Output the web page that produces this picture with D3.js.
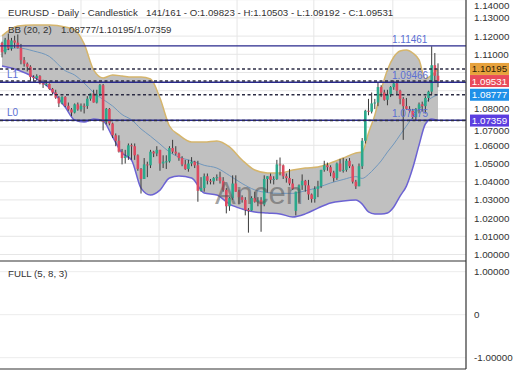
<!DOCTYPE html>
<html>
<head>
<meta charset="utf-8">
<script src="https://cdn.jsdelivr.net/npm/d3@7"></script>
<style>
  html, body { margin: 0; padding: 0; background: #fff; }
  svg { display: block; font-family: "Liberation Sans", Arial, sans-serif; }
</style>
</head>
<body>
<svg id="chart" width="520" height="390"></svg>
<script>
// daily candles (oldest first)
const open = [
  1.1163, 1.1111, 1.1180, 1.1132, 1.1176, 1.1164, 1.1135, 1.1068, 1.1048, 1.1032,
  1.0975, 1.0970, 1.0980, 1.0940, 1.0935, 1.0937, 1.0910, 1.0890, 1.0862, 1.0830,
  1.0866, 1.0817, 1.0797, 1.0780, 1.0825, 1.0797, 1.0817, 1.0816, 1.0856, 1.0884,
  1.0835, 1.0880, 1.0930, 1.0730, 1.0800, 1.0720, 1.0655, 1.0625, 1.0565, 1.0530,
  1.0540, 1.0600, 1.0595, 1.0545, 1.0470, 1.0415, 1.0495, 1.0490, 1.0565, 1.0555,
  1.0575, 1.0500, 1.0510, 1.0512, 1.0585, 1.0565, 1.0555, 1.0530, 1.0495, 1.0470,
  1.0500, 1.0510, 1.0490, 1.0350, 1.0365, 1.0430, 1.0405, 1.0402, 1.0420, 1.0425,
  1.0405, 1.0355, 1.0265, 1.0310, 1.0390, 1.0345, 1.0315, 1.0300, 1.0245, 1.0242,
  1.0310, 1.0290, 1.0300, 1.0275, 1.0415, 1.0430, 1.0410, 1.0415, 1.0495, 1.0490,
  1.0430, 1.0420, 1.0390, 1.0240, 1.0345, 1.0380, 1.0405, 1.0380, 1.0330, 1.0305,
  1.0360, 1.0375, 1.0465, 1.0490, 1.0480, 1.0450, 1.0420, 1.0500, 1.0460, 1.0465,
  1.0515, 1.0485, 1.0400, 1.0375, 1.0485, 1.0625, 1.0790, 1.0785, 1.0830, 1.0835,
  1.0920, 1.0890, 1.0850, 1.0880, 1.0920, 1.0940, 1.0900, 1.0855, 1.0815, 1.0800,
  1.0790, 1.0755, 1.0800, 1.0825, 1.0815, 1.0860, 1.0895, 1.1040, 1.09823
];
const high = [
  1.1169, 1.1190, 1.1214, 1.1190, 1.1202, 1.1209, 1.1157, 1.1085, 1.1055, 1.1040,
  1.0985, 1.0990, 1.0985, 1.0960, 1.0955, 1.0940, 1.0915, 1.0905, 1.0870, 1.0870,
  1.0870, 1.0835, 1.0805, 1.0830, 1.0835, 1.0830, 1.0830, 1.0870, 1.0885, 1.0905,
  1.0905, 1.0937, 1.0937, 1.0805, 1.0805, 1.0725, 1.0665, 1.0655, 1.0580, 1.0575,
  1.0610, 1.0610, 1.0610, 1.0550, 1.0475, 1.0530, 1.0510, 1.0575, 1.0570, 1.0595,
  1.0575, 1.0545, 1.0545, 1.0595, 1.0630, 1.0595, 1.0560, 1.0540, 1.0520, 1.0520,
  1.0535, 1.0515, 1.0515, 1.0425, 1.0445, 1.0445, 1.0415, 1.0425, 1.0440, 1.0455,
  1.0425, 1.0365, 1.0315, 1.0435, 1.0435, 1.0355, 1.0325, 1.0315, 1.0255, 1.0320,
  1.0345, 1.0315, 1.0315, 1.0435, 1.0430, 1.0445, 1.0430, 1.0520, 1.0533, 1.0495,
  1.0445, 1.0470, 1.0415, 1.0345, 1.0385, 1.0440, 1.0410, 1.0410, 1.0335, 1.0375,
  1.0405, 1.0465, 1.0515, 1.0505, 1.0490, 1.0460, 1.0505, 1.0525, 1.0530, 1.0525,
  1.0530, 1.0495, 1.0410, 1.0500, 1.0640, 1.0795, 1.0855, 1.0890, 1.0855, 1.0945,
  1.0930, 1.0905, 1.0905, 1.0925, 1.0955, 1.0945, 1.0905, 1.0865, 1.0860, 1.0815,
  1.0800, 1.0805, 1.0835, 1.0840, 1.0870, 1.0900, 1.1144, 1.1107, 1.10503
];
const low = [
  1.1083, 1.1100, 1.1123, 1.1120, 1.1135, 1.1132, 1.1045, 1.1032, 1.1006, 1.0950,
  1.0955, 1.0955, 1.0935, 1.0915, 1.0925, 1.0905, 1.0880, 1.0855, 1.0810, 1.0825,
  1.0810, 1.0790, 1.0760, 1.0775, 1.0790, 1.0785, 1.0775, 1.0800, 1.0845, 1.0835,
  1.0830, 1.0870, 1.0682, 1.0715, 1.0710, 1.0640, 1.0595, 1.0560, 1.0495, 1.0500,
  1.0520, 1.0520, 1.0520, 1.0460, 1.0335, 1.0415, 1.0425, 1.0475, 1.0535, 1.0540,
  1.0460, 1.0475, 1.0470, 1.0505, 1.0555, 1.0545, 1.0515, 1.0485, 1.0465, 1.0455,
  1.0485, 1.0475, 1.0290, 1.0345, 1.0345, 1.0385, 1.0385, 1.0385, 1.0405, 1.0390,
  1.0345, 1.0226, 1.0240, 1.0300, 1.0345, 1.0275, 1.0285, 1.0215, 1.0120, 1.0240,
  1.0285, 1.0265, 1.0125, 1.0265, 1.0340, 1.0390, 1.0385, 1.0410, 1.0435, 1.0415,
  1.0395, 1.0380, 1.0355, 1.0215, 1.0285, 1.0355, 1.0345, 1.0300, 1.0285, 1.0285,
  1.0315, 1.0365, 1.0455, 1.0460, 1.0430, 1.0400, 1.0410, 1.0455, 1.0450, 1.0455,
  1.0475, 1.0390, 1.0360, 1.0375, 1.0470, 1.0610, 1.0765, 1.0775, 1.0800, 1.0815,
  1.0865, 1.0845, 1.0820, 1.0865, 1.0905, 1.0880, 1.0825, 1.0630, 1.0795, 1.0780,
  1.0745, 1.0735, 1.0775, 1.0785, 1.0775, 1.0840, 1.0880, 1.0950, 1.09192
];
const close = [
  1.1111, 1.1180, 1.1132, 1.1176, 1.1164, 1.1135, 1.1068, 1.1048, 1.1032, 1.0975,
  1.0970, 1.0980, 1.0940, 1.0935, 1.0937, 1.0910, 1.0890, 1.0862, 1.0830, 1.0866,
  1.0817, 1.0797, 1.0780, 1.0825, 1.0797, 1.0817, 1.0816, 1.0856, 1.0884, 1.0835,
  1.0880, 1.0930, 1.0730, 1.0800, 1.0720, 1.0655, 1.0625, 1.0565, 1.0530, 1.0540,
  1.0600, 1.0595, 1.0545, 1.0470, 1.0415, 1.0495, 1.0490, 1.0565, 1.0555, 1.0575,
  1.0500, 1.0510, 1.0512, 1.0585, 1.0565, 1.0555, 1.0530, 1.0495, 1.0470, 1.0500,
  1.0510, 1.0490, 1.0350, 1.0365, 1.0430, 1.0405, 1.0402, 1.0420, 1.0425, 1.0405,
  1.0355, 1.0265, 1.0310, 1.0390, 1.0345, 1.0315, 1.0300, 1.0245, 1.0242, 1.0310,
  1.0290, 1.0300, 1.0275, 1.0415, 1.0430, 1.0410, 1.0415, 1.0495, 1.0490, 1.0430,
  1.0420, 1.0390, 1.0360, 1.0345, 1.0380, 1.0405, 1.0380, 1.0330, 1.0305, 1.0360,
  1.0375, 1.0465, 1.0490, 1.0480, 1.0450, 1.0420, 1.0500, 1.0460, 1.0465, 1.0515,
  1.0485, 1.0400, 1.0375, 1.0485, 1.0625, 1.0790, 1.0785, 1.0830, 1.0835, 1.0920,
  1.0890, 1.0850, 1.0880, 1.0920, 1.0940, 1.0900, 1.0855, 1.0815, 1.0800, 1.0790,
  1.0755, 1.0800, 1.0825, 1.0815, 1.0860, 1.0895, 1.1040, 1.0982, 1.09531
];

// Bollinger band (20, 2) read at these candle positions
const bandIndex = [0, 5, 10, 15, 20, 23, 26, 29, 32, 35, 38, 41, 44, 47, 50, 53, 56, 60, 64, 68, 72, 76,
  80, 84, 88, 92, 96, 100, 104, 108, 112, 114, 116, 118, 120, 122, 124, 126, 128, 130, 132, 134, 136, 138];
const bandUpper = [1.1201, 1.1255, 1.1261, 1.1261, 1.1250, 1.1234, 1.1157, 1.1014, 1.0970, 1.0986, 1.0981,
  1.0975, 1.0975, 1.0964, 1.0860, 1.0706, 1.0657, 1.0618, 1.0618, 1.0624, 1.0591, 1.0519, 1.0464, 1.0448,
  1.0448, 1.0464, 1.0475, 1.0481, 1.0503, 1.0530, 1.0558, 1.0563, 1.0668, 1.0766, 1.0904, 1.1014, 1.1085,
  1.1118, 1.1124, 1.1107, 1.1069, 1.0965, 1.0985, 1.10195];
const bandMiddle = [1.1118, 1.1135, 1.1118, 1.1088, 1.1010, 1.0986, 1.0942, 1.0890, 1.0852, 1.0816, 1.0769,
  1.0740, 1.0690, 1.0650, 1.0607, 1.0563, 1.0535, 1.0515, 1.0490, 1.0475, 1.0434, 1.0390, 1.0355, 1.0340,
  1.0336, 1.0336, 1.0350, 1.0368, 1.0393, 1.0412, 1.0428, 1.0418, 1.0440, 1.0475, 1.0514, 1.0563, 1.0607,
  1.0657, 1.0706, 1.0755, 1.0800, 1.0835, 1.0862, 1.08777];
const bandLower = [1.1036, 1.1014, 1.0975, 1.0915, 1.0810, 1.0739, 1.0728, 1.0745, 1.0734, 1.0646, 1.0558,
  1.0519, 1.0365, 1.0327, 1.0354, 1.0420, 1.0431, 1.0420, 1.0338, 1.0327, 1.0277, 1.0250, 1.0234, 1.0228,
  1.0223, 1.0206, 1.0223, 1.0255, 1.0283, 1.0294, 1.0299, 1.0277, 1.0234, 1.0223, 1.0223, 1.0228, 1.0261,
  1.0321, 1.0376, 1.0475, 1.0601, 1.0717, 1.0745, 1.07359];

// drawn levels
const levelValues = [1.11461, 1.09466, 1.07375];
const levelNames = ["", "L1", "L0"];
const markerValues = [1.10195, 1.09531, 1.08777, 1.07359];
const markerFills = ["#e7a23c", "#e94b5a", "#1f90e8", "#5b3ee0"];
const markerText = ["#2b2108", "#fff", "#fff", "#fff"];

const priceTicks = [1.00, 1.01, 1.02, 1.03, 1.04, 1.05, 1.06, 1.07, 1.08, 1.09, 1.10, 1.11, 1.12, 1.13, 1.14];
const fullTicks = [1, 0, -1];
const timeGrid = [25, 49.7, 74.4, 98.7, 123.7];

const titleLeft = "EURUSD - Daily - Candlestick";
const titleRight = "141/161 - O:1.09823 - H:1.10503 - L:1.09192 - C:1.09531";
const bbLabel = "BB (20, 2)";
const bbValues = "1.08777/1.10195/1.07359";
const fullLabel = "FULL (5, 8, 3)";
const watermark = "Ancen";

const PLOT_R = 466, MAIN_B = 261, FULL_B = 369;
const UP = "#2aa98c", DOWN = "#dd4a60", WICK = "#3a3a3a";
const BOX_H = 12;

const svg = d3.select("#chart");
const x = d3.scaleLinear().domain([0, open.length - 1]).range([2, 438]);
const y = d3.scaleLinear().domain([1.00, 1.14]).range([254.5, -0.3]);
const yFull = d3.scaleLinear().domain([-1, 1]).range([357.7, 271.7]);

svg.append("rect").attr("width", 520).attr("height", 390).attr("fill", "#fff");
svg.append("clipPath").attr("id", "main-clip")
  .append("rect").attr("x", 0).attr("y", 0).attr("width", PLOT_R).attr("height", MAIN_B);

const main = svg.append("g").attr("clip-path", "url(#main-clip)");

// grid
main.selectAll(".hgrid").data(priceTicks).join("line")
  .attr("x1", 0).attr("x2", PLOT_R)
  .attr("y1", d => y(d)).attr("y2", d => y(d))
  .attr("stroke", "#e6e6e6").attr("stroke-width", 1);
main.selectAll(".vgrid").data(timeGrid).join("line")
  .attr("x1", d => x(d)).attr("x2", d => x(d))
  .attr("y1", 0).attr("y2", MAIN_B)
  .attr("stroke", "#e6e6e6").attr("stroke-width", 1);

// bollinger band
const band = bandIndex.map((b, i) => ({i: b, u: bandUpper[i], m: bandMiddle[i], l: bandLower[i]}));
main.append("path").datum(band)
  .attr("d", d3.area().x(d => x(d.i)).y0(d => y(d.l)).y1(d => y(d.u)).curve(d3.curveMonotoneX))
  .attr("fill", "#c0c0c0");
const bandLine = key => d3.line().x(d => x(d.i)).y(d => y(d[key])).curve(d3.curveMonotoneX);
main.append("path").datum(band).attr("d", bandLine("u"))
  .attr("fill", "none").attr("stroke", "#d5b56c").attr("stroke-width", 1.5);
main.append("path").datum(band).attr("d", bandLine("l"))
  .attr("fill", "none").attr("stroke", "#6c63d3").attr("stroke-width", 1.5);
main.append("path").datum(band).attr("d", bandLine("m"))
  .attr("fill", "none").attr("stroke", "#7097bd").attr("stroke-width", 1);

// candles
const candles = open.map((o, i) => ({i, o, h: high[i], l: low[i], c: close[i]}));
main.selectAll(".wick").data(candles).join("line")
  .attr("x1", d => x(d.i)).attr("x2", d => x(d.i))
  .attr("y1", d => y(d.h)).attr("y2", d => y(d.l))
  .attr("stroke", WICK).attr("stroke-width", 1);
main.selectAll(".body").data(candles).join("rect")
  .attr("x", d => x(d.i) - 1.3).attr("width", 2.6)
  .attr("y", d => y(Math.max(d.o, d.c)))
  .attr("height", d => Math.max(1, Math.abs(y(d.o) - y(d.c))))
  .attr("fill", d => d.c >= d.o ? UP : DOWN);

// level lines
main.selectAll(".level").data(levelValues).join("line")
  .attr("x1", 0).attr("x2", PLOT_R)
  .attr("y1", d => y(d)).attr("y2", d => y(d))
  .attr("stroke", "#29298c").attr("stroke-width", 1.4);
main.selectAll(".marker-line").data(markerValues).join("line")
  .attr("x1", 0).attr("x2", PLOT_R)
  .attr("y1", d => y(d)).attr("y2", d => y(d))
  .attr("stroke", "#2c2c44").attr("stroke-width", 1.6)
  .attr("stroke-dasharray", "3,2.5");

main.selectAll(".level-name").data(levelValues).join("text")
  .attr("x", 7).attr("y", d => y(d) - 4)
  .attr("fill", "#5b6fd3").attr("font-size", 10)
  .text((d, i) => levelNames[i]);
main.selectAll(".level-value").data(levelValues).join("text")
  .attr("x", 392).attr("y", d => y(d) - 3)
  .attr("fill", "#5b6fd3").attr("font-size", 10)
  .text(d => d.toFixed(5));

// watermark
main.append("text")
  .attr("x", 259).attr("y", 204)
  .attr("text-anchor", "middle")
  .attr("font-size", 31)
  .attr("fill", "#555").attr("fill-opacity", 0.55)
  .text(watermark);

// titles
svg.append("text").attr("x", 8).attr("y", 16).attr("font-size", 9.7).attr("fill", "#333").text(titleLeft);
svg.append("text").attr("x", 146).attr("y", 16).attr("font-size", 9.7).attr("fill", "#333").text(titleRight);
svg.append("text").attr("x", 8).attr("y", 33).attr("font-size", 9.7).attr("fill", "#333").text(bbLabel);
svg.append("text").attr("x", 61).attr("y", 33).attr("font-size", 9.7).attr("fill", "#333").text(bbValues);

// lower panel
svg.selectAll(".fgrid").data(fullTicks).join("line")
  .attr("x1", 0).attr("x2", PLOT_R)
  .attr("y1", d => yFull(d)).attr("y2", d => yFull(d))
  .attr("stroke", "#ececec").attr("stroke-width", 1);
svg.append("text").attr("x", 8).attr("y", 277).attr("font-size", 9.7).attr("fill", "#333").text(fullLabel);

// frame
svg.append("line").attr("x1", 0).attr("x2", PLOT_R).attr("y1", MAIN_B).attr("y2", MAIN_B)
  .attr("stroke", "#333").attr("stroke-width", 1.2);
svg.append("line").attr("x1", 0).attr("x2", PLOT_R).attr("y1", FULL_B).attr("y2", FULL_B)
  .attr("stroke", "#333").attr("stroke-width", 1.2);
svg.append("line").attr("x1", PLOT_R).attr("x2", PLOT_R).attr("y1", 0).attr("y2", FULL_B)
  .attr("stroke", "#333").attr("stroke-width", 1.2);

// axis labels; ones right under a value box are hidden, near ones nudged below it
const nearest = v => d3.least(markerValues, m => Math.abs(y(m) - y(v)));
const labelY = v => {
  const m = nearest(v), gap = y(v) - y(m);
  if (gap > 0 && gap < 10) return y(m) + BOX_H / 2 + 7.5;
  return Math.max(y(v), 5) + 3.5;
};
svg.selectAll(".ptick").data(priceTicks.filter(v => Math.abs(y(nearest(v)) - y(v)) >= 6)).join("text")
  .attr("x", 474).attr("y", labelY)
  .attr("font-size", 9.8).attr("fill", "#333")
  .text(d => d.toFixed(5));
svg.selectAll(".ftick").data(fullTicks).join("text")
  .attr("x", 474).attr("y", d => yFull(d) + 3.5)
  .attr("font-size", 9.8).attr("fill", "#333")
  .text(d => d === 0 ? "0" : d.toFixed(5));

// current value boxes
const boxes = svg.selectAll(".pbox").data(markerValues).join("g")
  .attr("transform", d => `translate(470,${y(d)})`);
boxes.append("rect").attr("x", 0).attr("y", -BOX_H / 2).attr("width", 39).attr("height", BOX_H)
  .attr("fill", (d, i) => markerFills[i]);
boxes.append("text").attr("x", 19.5).attr("y", 3.5).attr("text-anchor", "middle")
  .attr("font-size", 9.8).attr("fill", (d, i) => markerText[i])
  .text(d => d.toFixed(5));
</script>
</body>
</html>
